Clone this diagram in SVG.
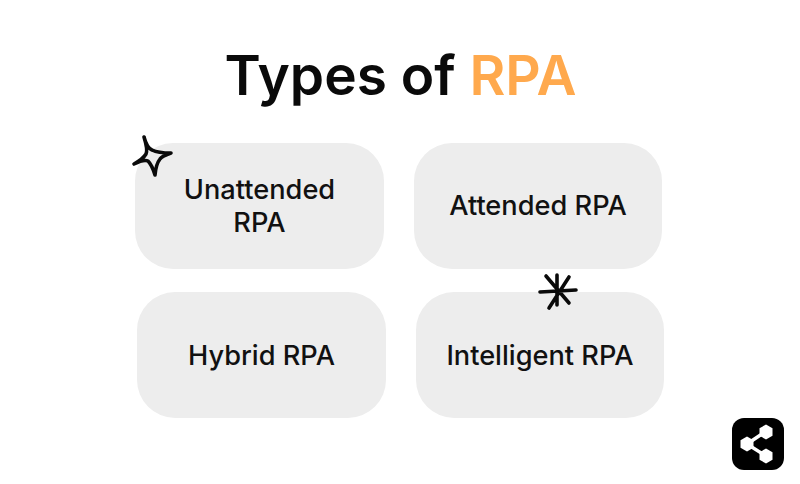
<svg xmlns="http://www.w3.org/2000/svg" width="800" height="484" viewBox="0 0 800 484">
<style>
.card{fill:#ededed}
.lbl{font-family:Inter,"Noto Sans",sans-serif;font-size:27.200px;font-weight:500;fill:#111;text-anchor:middle}
.ink{fill:none;stroke:#0a0a0a;stroke-width:3.600;stroke-linecap:round;stroke-linejoin:round}
</style>
<rect width="800" height="484" fill="#fff"/>
<text x="400.500" y="95" text-anchor="middle" font-family="Inter,'Noto Sans',sans-serif" font-size="55" font-weight="600" fill="#0a0a0a">Types of <tspan fill="#ffa94d">RPA</tspan></text>
<g id="node-unattended"><rect class="card" x="135" y="143" width="249" height="126" rx="38"/><text class="lbl" x="259.500" y="199">Unattended</text><text class="lbl" x="259.500" y="232">RPA</text></g>
<g id="node-attended"><rect class="card" x="414" y="143" width="248" height="126" rx="38"/><text class="lbl" x="538" y="215">Attended RPA</text></g>
<g id="node-hybrid"><rect class="card" x="137" y="292" width="249" height="126" rx="38"/><text class="lbl" x="261.500" y="365">Hybrid RPA</text></g>
<g id="node-intelligent"><rect class="card" x="416" y="292" width="248" height="126" rx="38"/><text class="lbl" x="540" y="365">Intelligent RPA</text></g>
<g id="connectors"></g>
<g id="sparkle"><path class="ink" d="M144 137Q147 148 152 150Q158 153 171 153Q162 156 160 159Q156 164 155 175Q152 165 148 161Q144 159 134 164Q143 159 146 154Q148 150 144 137Z"/></g>
<g id="asterisk"><path class="ink" d="M546 276L569 303M557 275L557 305M569 277L549 308M540 292L576 290"/></g>
<g id="share">
<rect x="732" y="418" width="52" height="52" rx="12" fill="#000"/>
<path d="M747 444L765 432M747 444L766 456" stroke="#fff" stroke-width="3.500" fill="none"/>
<polygon points="747,436.500 753.500,440.200 753.500,447.800 747,451.500 740.500,447.800 740.500,440.200" fill="#fff"/>
<polygon points="766,424.500 772.500,428.200 772.500,435.800 766,439.500 759.500,435.800 759.500,428.200" fill="#fff"/>
<polygon points="766,448.500 772.500,452.200 772.500,459.800 766,463.500 759.500,459.800 759.500,452.200" fill="#fff"/>
</g>
</svg>
